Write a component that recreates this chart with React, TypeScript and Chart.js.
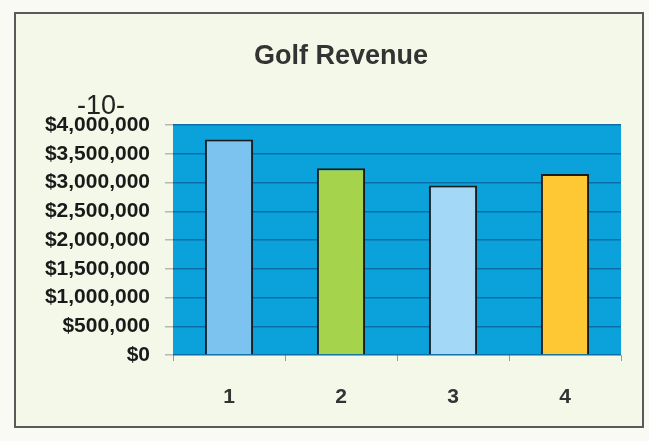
import React, { useEffect, useRef } from "react";
import { Chart, registerables } from "chart.js";

Chart.register(...registerables);

const categories: string[] = ["1", "2", "3", "4"];
const revenue: number[] = [3750000, 3250000, 2950000, 3150000];
const barColors: string[] = ["#7cc4ef", "#a5d34b", "#a3d8f6", "#fdc834"];
const yMin = 0;
const yMax = 4000000;
const yStep = 500000;
const chartTitle = "Golf Revenue";
const pageNumber = "-10-";

const FONT = "'Liberation Sans', Arial, Helvetica, sans-serif";

const plotBg = {
  id: "plotBg",
  beforeDraw(chart: any) {
    const { ctx, chartArea } = chart;
    if (!chartArea) return;
    ctx.save();
    ctx.fillStyle = "#0ba2dc";
    ctx.fillRect(chartArea.left, chartArea.top, chartArea.width, chartArea.height);
    ctx.restore();
  },
};

const titleText = {
  id: "titleText",
  afterDraw(chart: any) {
    const { ctx } = chart;
    ctx.save();
    ctx.fillStyle = "#333333";
    ctx.font = `bold 27px ${FONT}`;
    ctx.textAlign = "center";
    ctx.textBaseline = "middle";
    ctx.fillText(chartTitle, 341, 57);
    ctx.restore();
  },
};

export default function App() {
  const canvasRef = useRef<HTMLCanvasElement | null>(null);

  useEffect(() => {
    if (!canvasRef.current) return;
    const chart = new Chart(canvasRef.current, {
      type: "bar",
      data: {
        labels: categories,
        datasets: [
          {
            data: revenue,
            backgroundColor: barColors,
            borderColor: "#1c1c1c",
            borderWidth: 2,
            barPercentage: 0.43,
            categoryPercentage: 1,
          },
        ],
      },
      options: {
        responsive: false,
        animation: false,
        devicePixelRatio: 1,
        layout: { padding: { left: 30, right: 28, top: 125, bottom: 0 } },
        plugins: {
          legend: { display: false },
          tooltip: { enabled: false },
          title: { display: false },
        },
        scales: {
          x: {
            afterFit(scale: any) {
              scale.height = 86;
            },
            grid: {
              display: true,
              drawOnChartArea: false,
              drawTicks: true,
              tickLength: 6,
              tickColor: "#9a9a9a",
              offset: true,
            },
            border: { display: false },
            ticks: {
              color: "#333333",
              font: { family: FONT, size: 21, weight: "bold" },
              padding: 24,
            },
          },
          y: {
            min: yMin,
            max: yMax,
            afterFit(scale: any) {
              scale.width = 143;
            },
            grid: {
              color: "#0c6ea6",
              lineWidth: 1.5,
              tickLength: 8,
              tickColor: "#b8b8b8",
            },
            border: { display: false },
            ticks: {
              stepSize: yStep,
              color: "#1a1a1a",
              padding: 15,
              font: { family: FONT, size: 21, weight: "bold" },
              callback: (v: any) => "$" + Number(v).toLocaleString("en-US"),
            },
          },
        },
      },
      plugins: [plotBg, titleText],
    });
    return () => chart.destroy();
  }, []);

  return (
    <div
      style={{
        position: "absolute",
        left: 0,
        top: 0,
        width: 649,
        height: 441,
        background: "#fafaf5",
        overflow: "hidden",
      }}
    >
      <div
        style={{
          position: "absolute",
          left: 14,
          top: 12,
          width: 626,
          height: 412,
          background: "#f4f8e8",
          border: "2px solid #5a5a5a",
        }}
      />
      <canvas
        ref={canvasRef}
        width={649}
        height={441}
        style={{ position: "absolute", left: 0, top: 0 }}
      />
      <div
        style={{
          position: "absolute",
          left: 56,
          top: 90,
          width: 90,
          textAlign: "center",
          fontFamily: FONT,
          fontSize: 27,
          lineHeight: "30px",
          color: "#222",
        }}
      >
        {pageNumber}
      </div>
    </div>
  );
}
